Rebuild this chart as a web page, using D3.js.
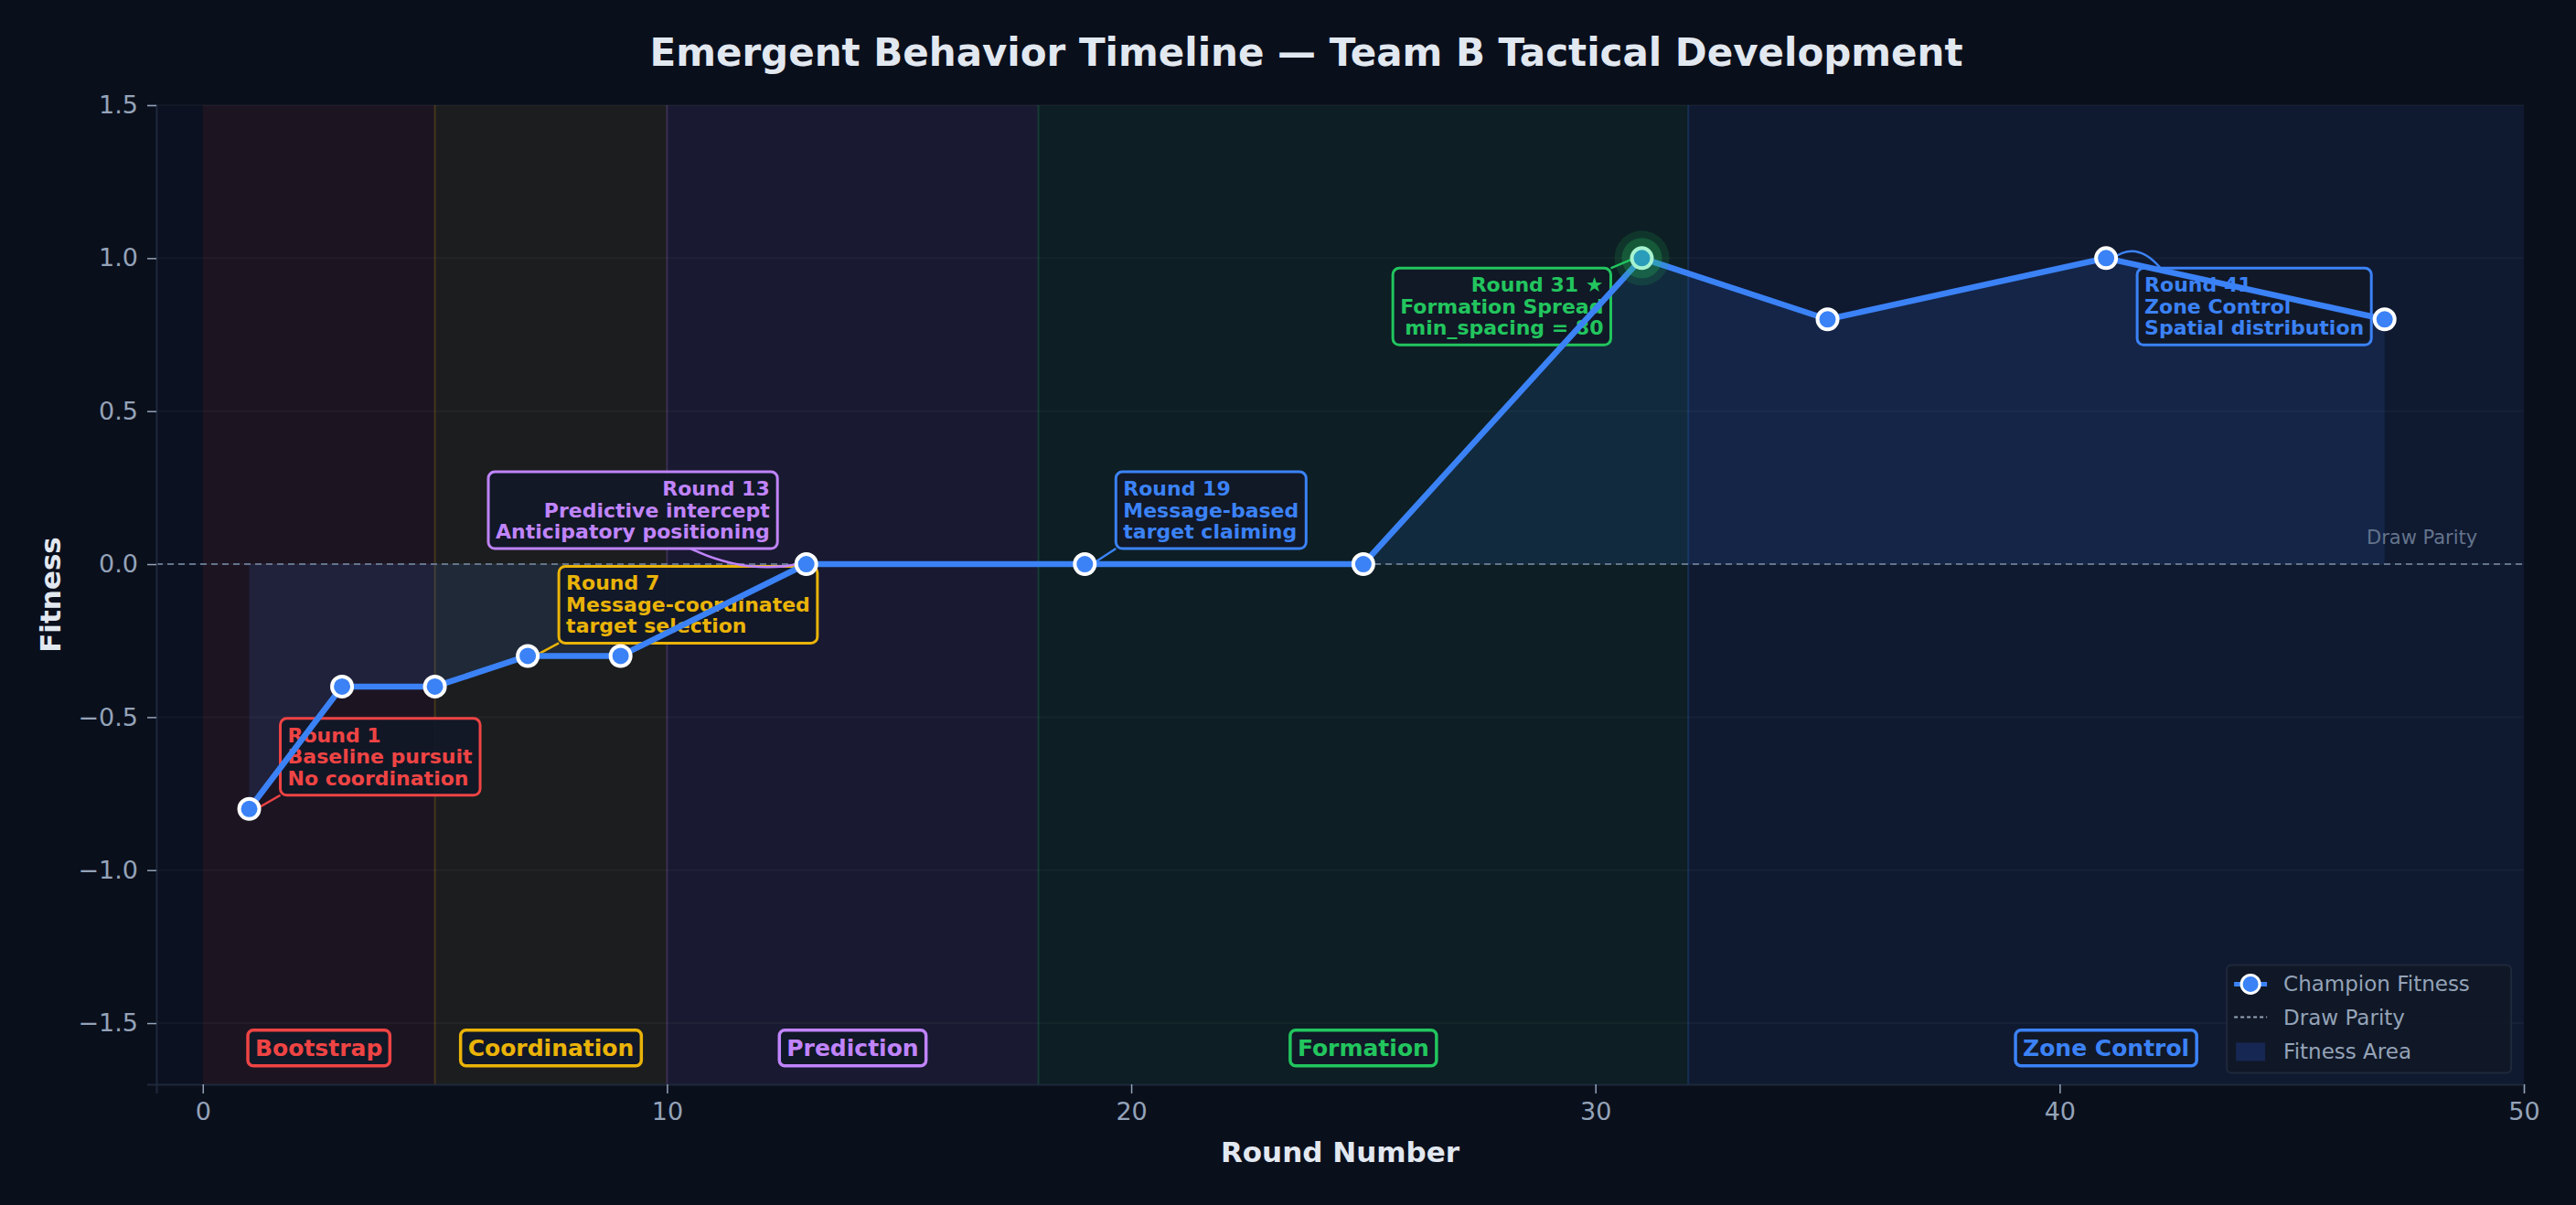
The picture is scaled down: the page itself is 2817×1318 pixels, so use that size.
<!DOCTYPE html>
<html><head><meta charset="utf-8">
<script src="https://cdn.jsdelivr.net/npm/d3@7"></script>
<style>
body{margin:0;background:#0a0f1c;}
text{font-family:"DejaVu Sans",sans-serif;}
</style></head>
<body><svg id="chart"></svg>
<script>
// Data
const rounds = [1, 3, 5, 7, 9, 13, 19, 25, 31, 35, 41, 47];
const fitness = [-0.8, -0.4, -0.4, -0.3, -0.3, 0.0, 0.0, 0.0, 1.0, 0.8, 1.0, 0.8];
const phaseNames = ["Bootstrap", "Coordination", "Prediction", "Formation", "Zone Control"];
const phaseStart = [0, 5, 10, 18, 32];
const phaseEnd = [5, 10, 18, 32, 50];
const phaseColors = ["#ef4444", "#eab308", "#c084fc", "#22c55e", "#3b82f6"];
const xTicks = [0, 10, 20, 30, 40, 50];
const yTicks = [-1.5, -1.0, -0.5, 0.0, 0.5, 1.0, 1.5];
const annoRounds = [1, 7, 13, 19, 31, 41];
const annoTexts = [
  ["Round 1", "Baseline pursuit", "No coordination"],
  ["Round 7", "Message-coordinated", "target selection"],
  ["Round 13", "Predictive intercept", "Anticipatory positioning"],
  ["Round 19", "Message-based", "target claiming"],
  ["Round 31 \u2605", "Formation Spread", "min_spacing = 80"],
  ["Round 41", "Zone Control", "Spatial distribution"]
];
const annoColors = ["#ef4444", "#eab308", "#c084fc", "#3b82f6", "#22c55e", "#3b82f6"];

const W = 2817, H = 1318;
const margin = {top: 115, right: 57, bottom: 132, left: 171};
const width = W - margin.left - margin.right, height = H - margin.top - margin.bottom;

const svg = d3.select("#chart").attr("width", W).attr("height", H);
svg.append("rect").attr("width", W).attr("height", H).attr("fill", "#0a0f1c");

const x = d3.scaleLinear().domain([-1, 50]).range([0, width]);
const y = d3.scaleLinear().domain([-1.7, 1.5]).range([height, 0]);

const g = svg.append("g").attr("transform", `translate(${margin.left},${margin.top})`);
g.append("rect").attr("width", width).attr("height", height).attr("fill", "#0b1120");

// Phase bands
phaseNames.forEach((p, i) => {
  g.append("rect").attr("x", x(phaseStart[i])).attr("y", 0)
    .attr("width", x(phaseEnd[i]) - x(phaseStart[i])).attr("height", height)
    .attr("fill", phaseColors[i]).attr("fill-opacity", 0.08);
  if (i > 0) g.append("line").attr("x1", x(phaseStart[i])).attr("x2", x(phaseStart[i]))
    .attr("y1", 0).attr("y2", height).attr("stroke", phaseColors[i]).attr("stroke-opacity", 0.2).attr("stroke-width", 2);
});

// Grid
yTicks.forEach(t => g.append("line").attr("x1", 0).attr("x2", width).attr("y1", y(t)).attr("y2", y(t))
  .attr("stroke", "#ffffff").attr("stroke-opacity", 0.03).attr("stroke-width", 2));

// Fitness area
const pts = rounds.map((r, i) => ({r, f: fitness[i]}));
g.append("path").datum(pts)
  .attr("d", d3.area().x(d => x(d.r)).y0(y(0)).y1(d => y(d.f)))
  .attr("fill", "#3b82f6").attr("fill-opacity", 0.12);

// Draw parity
g.append("line").attr("x1", 0).attr("x2", width).attr("y1", y(0)).attr("y2", y(0))
  .attr("stroke", "#64748b").attr("stroke-width", 2).attr("stroke-dasharray", "7,5");
g.append("text").attr("x", x(49)).attr("y", y(0) - 22).attr("text-anchor", "end")
  .attr("fill", "#64748b").attr("font-size", 21).text("Draw Parity");

// Axes
const xAxis = g.append("g").attr("transform", `translate(0,${height})`)
  .call(d3.axisBottom(x).tickValues(xTicks).tickSize(10).tickPadding(10));
const yAxis = g.append("g").call(d3.axisLeft(y).tickValues(yTicks).tickSize(10).tickPadding(10)
  .tickFormat(d => d3.format(".1f")(d).replace("-", "\u2212")));
[xAxis, yAxis].forEach(a => {
  a.selectAll("text").attr("fill", "#94a3b8").attr("font-size", 27);
  a.selectAll("line").attr("stroke", "#94a3b8").attr("stroke-width", 1.5);
  a.select(".domain").attr("stroke", "#1e293b").attr("stroke-width", 2);
});

g.append("text").attr("x", width / 2).attr("y", height + 85).attr("text-anchor", "middle")
  .attr("fill", "#e2e8f0").attr("font-size", 31).attr("font-weight", "bold").text("Round Number");
g.append("text").attr("transform", `translate(-105,${height / 2}) rotate(-90)`).attr("text-anchor", "middle")
  .attr("fill", "#e2e8f0").attr("font-size", 31).attr("font-weight", "bold").text("Fitness");
svg.append("text").attr("x", W / 2 + 20).attr("y", 72).attr("text-anchor", "middle")
  .attr("fill", "#e2e8f0").attr("font-size", 42).attr("font-weight", "bold")
  .text("Emergent Behavior Timeline \u2014 Team B Tactical Development");

// Phase labels
phaseNames.forEach((p, i) => {
  const cx = x((phaseStart[i] + phaseEnd[i]) / 2), cy = y(-1.58);
  const t = g.append("text").attr("x", cx).attr("y", cy + 9).attr("text-anchor", "middle")
    .attr("fill", phaseColors[i]).attr("font-size", 25).attr("font-weight", "bold").text(p);
  const bb = t.node().getBBox();
  g.insert("rect", () => t.node()).attr("x", bb.x - 8).attr("y", bb.y - 5).attr("width", bb.width + 16)
    .attr("height", bb.height + 10).attr("rx", 6).attr("fill", "#111827")
    .attr("stroke", phaseColors[i]).attr("stroke-width", 3.5);
});

// Annotations: box offset (px from point), alignment, curvature
const annoLayout = [
  {dx: 42, dy: -96, align: "start", curve: 0},
  {dx: 42, dy: -95, align: "start", curve: 0},
  {dx: -40, dy: -98, align: "end", curve: -0.3},
  {dx: 42, dy: -98, align: "start", curve: 0},
  {dx: -42, dy: 14, align: "end", curve: 0},
  {dx: 42, dy: 14, align: "start", curve: 0.4}
];
annoRounds.forEach((r, i) => {
  const f = fitness[rounds.indexOf(r)], px = x(r), py = y(f), L = annoLayout[i], c = annoColors[i];
  const grp = g.append("g");
  const arrow = grp.append("path").attr("fill", "none").attr("stroke", c).attr("stroke-width", 2.5);
  const t = grp.append("text").attr("font-size", 22).attr("font-weight", "bold").attr("fill", c)
    .attr("text-anchor", L.align);
  annoTexts[i].forEach((line, k) => t.append("tspan").attr("x", px + L.dx).attr("y", py + L.dy + 23 + k * 23.5).text(line));
  const bb = t.node().getBBox();
  const bx = bb.x - 8, by = bb.y - 6, bw = bb.width + 16, bh = bb.height + 12;
  grp.insert("rect", () => t.node()).attr("x", bx).attr("y", by).attr("width", bw).attr("height", bh)
    .attr("rx", 7).attr("fill", "#111827").attr("fill-opacity", 0.92).attr("stroke", c).attr("stroke-width", 3);
  const sx = L.align === "start" ? bx : bx + bw;
  const sy = Math.max(by, Math.min(by + bh, py));
  const ex = px + (L.align === "start" ? 8 : -8), ey = py;
  if (L.curve) {
    const sx2 = bx + bw * (L.align === "start" ? 0.1 : 0.7), sy2 = L.dy < 0 ? by + bh : by;
    const mx = (sx2 + ex) / 2, my = (sy2 + ey) / 2 + (L.curve < 0 ? 20 : -25);
    arrow.attr("d", `M${sx2},${sy2} Q${mx},${my} ${ex},${ey}`);
  } else {
    arrow.attr("d", `M${sx},${sy} L${ex},${ey}`);
  }
});

// Line and markers
g.append("path").datum(pts).attr("d", d3.line().x(d => x(d.r)).y(d => y(d.f)))
  .attr("fill", "none").attr("stroke", "#3b82f6").attr("stroke-width", 6.5).attr("stroke-linejoin", "round");
const peak = pts[rounds.indexOf(31)];
[30, 22].forEach((rad, k) => g.append("circle").attr("cx", x(peak.r)).attr("cy", y(peak.f)).attr("r", rad)
  .attr("fill", "#22c55e").attr("fill-opacity", 0.15 + k * 0.1));
g.selectAll(".pt").data(pts).enter().append("circle")
  .attr("cx", d => x(d.r)).attr("cy", d => y(d.f)).attr("r", 11)
  .attr("fill", d => d === peak ? "#2a9dbb" : "#3b82f6")
  .attr("stroke", d => d === peak ? "#a7f3d0" : "#ffffff").attr("stroke-width", 4);

// Legend
const lg = g.append("g").attr("transform", `translate(${x(43.6)},${y(-1.31)})`);
lg.append("rect").attr("width", 311).attr("height", 118).attr("rx", 5).attr("fill", "#111827")
  .attr("fill-opacity", 0.9).attr("stroke", "#1e293b").attr("stroke-width", 2);
lg.append("line").attr("x1", 8).attr("x2", 44).attr("y1", 21).attr("y2", 21).attr("stroke", "#3b82f6").attr("stroke-width", 5);
lg.append("circle").attr("cx", 26).attr("cy", 21).attr("r", 10).attr("fill", "#3b82f6").attr("stroke", "#fff").attr("stroke-width", 3);
lg.append("line").attr("x1", 8).attr("x2", 44).attr("y1", 57).attr("y2", 57).attr("stroke", "#94a3b8").attr("stroke-width", 2).attr("stroke-dasharray", "4,3");
lg.append("rect").attr("x", 10).attr("y", 85).attr("width", 32).attr("height", 20).attr("fill", "#1e3a8a").attr("fill-opacity", 0.45);
["Champion Fitness", "Draw Parity", "Fitness Area"].forEach((s, k) =>
  lg.append("text").attr("x", 62).attr("y", 29 + k * 37).attr("fill", "#94a3b8").attr("font-size", 23).text(s));
</script></body></html>
